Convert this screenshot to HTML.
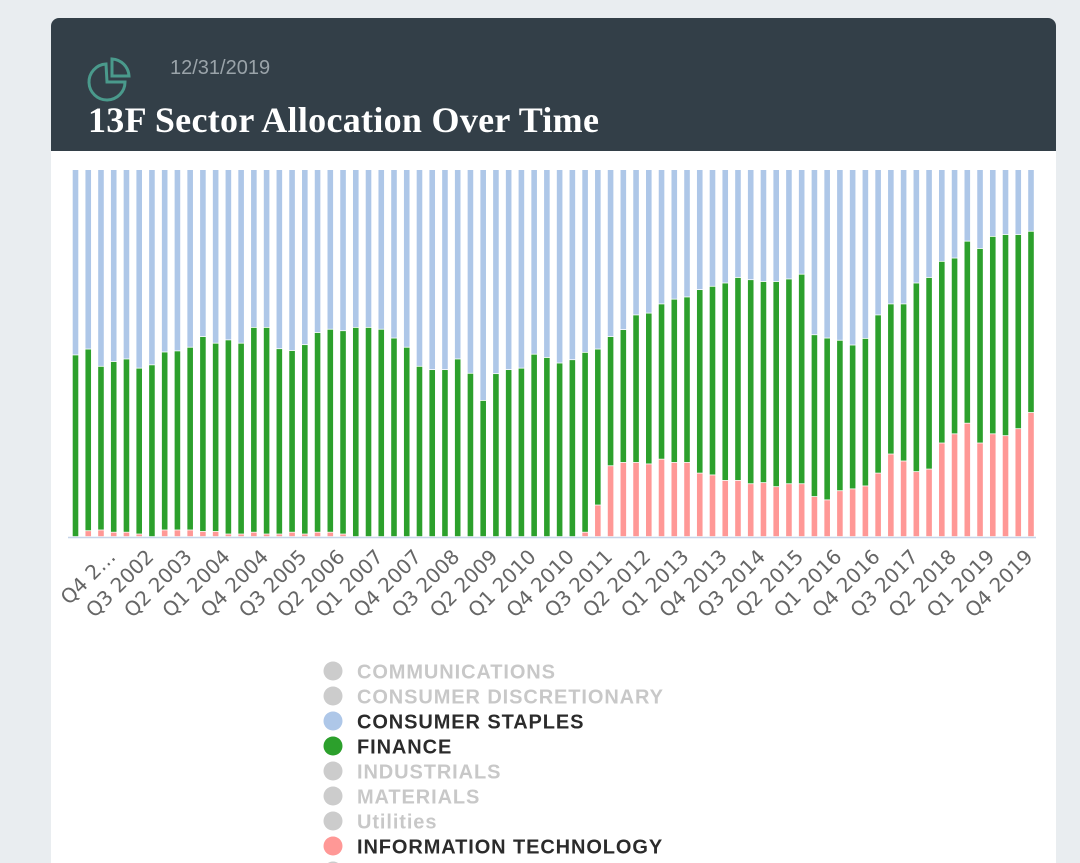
<!DOCTYPE html>
<html><head><meta charset="utf-8">
<style>
html,body{margin:0;padding:0;width:1080px;height:863px;overflow:hidden;background:#e9edf0;font-family:"Liberation Sans",sans-serif;}
#card{position:absolute;left:51px;top:18px;width:1005px;height:845px;background:#fff;border-radius:8px 8px 0 0;overflow:hidden;}
#hdr{position:absolute;left:0;top:0;width:1005px;height:133px;background:#333f48;}
#date{position:absolute;left:119px;top:39px;color:#9aa3a9;font-size:20px;}
#title{position:absolute;left:37px;top:81px;color:#fff;font-family:"Liberation Serif",serif;font-weight:bold;font-size:36px;letter-spacing:0.3px;}
svg{position:absolute;left:0;top:0;}
</style></head><body>
<div id="card">
 <div id="hdr">
  <svg width="60" height="60" style="left:36px;top:38px">
   <path d="M19 8 A18 18 0 1 0 38 26 L20 26 Z" fill="none" stroke="#4a9a8c" stroke-width="3"/>
   <path d="M25 3 A18 18 0 0 1 42 20 L25 20 Z" fill="none" stroke="#4a9a8c" stroke-width="3"/>
  </svg>
  <div id="date">12/31/2019</div>
  <div id="title">13F Sector Allocation Over Time</div>
 </div>
</div>
<svg id="chart" width="1080" height="863"></svg>
<script>
const quarters=[];for(let y=2001;y<=2019;y++)for(let q=1;q<=4;q++)quarters.push('Q'+q+' '+y);
const itShare=[0,1.6,1.8,1.2,1.2,0.7,0,1.8,1.8,1.8,1.4,1.4,0.7,0.7,1.2,0.7,0.7,1.2,0.7,1.2,1.2,0.7,0,0,0,0,0,0,0,0,0,0,0,0,0,0,0,0,0,0,1.2,8.6,19.3,20.2,20.2,19.8,21.1,20.2,20.2,17.3,16.8,15.3,15.3,14.4,14.7,13.6,14.4,14.4,10.9,10.0,12.5,13.0,13.8,17.3,22.5,20.6,17.7,18.4,25.5,28.0,30.9,25.5,28.0,27.5,29.4,33.8];
const financeShare=[49.5,49.5,44.6,46.5,47.2,45.2,46.8,48.5,48.8,49.8,53.1,51.3,52.9,52.0,55.8,56.3,50.5,49.5,51.6,54.4,55.3,55.4,57.0,57.0,56.5,54.1,51.6,46.4,45.5,45.5,48.4,44.5,37.1,44.4,45.5,45.9,49.7,48.8,47.3,48.2,49.0,42.5,35.2,36.2,40.2,41.1,42.3,44.5,45.1,50.0,51.4,53.8,55.3,55.6,54.8,55.9,55.8,57.1,44.1,44.1,41.0,39.2,40.2,43.1,40.9,42.8,51.4,52.2,49.5,47.9,49.6,53.0,53.8,54.8,52.9,49.4];
const tickEvery=3, tickStart=3;
const X0=75.5, STEP=12.74, BW=5.6, TOP=170, BOT=537;
const svg=document.getElementById('chart');const NS='http://www.w3.org/2000/svg';
function xs(i){return X0+STEP*i;}
function ys(v){return BOT-(BOT-TOP)*v/100;}
function rect(x,y1,y2,fill,name){const r=document.createElementNS(NS,'rect');r.setAttribute('x',x-BW/2);r.setAttribute('y',Math.min(y1,y2));r.setAttribute('width',BW);r.setAttribute('height',Math.max(0,Math.abs(y2-y1)-0.8));r.setAttribute('fill',fill);


svg.appendChild(r);}
quarters.forEach((q,i)=>{const x=xs(i);const it=itShare[i],fin=financeShare[i];
 if(it>0)rect(x,ys(it),BOT,'#ff9896','bar-it');
 rect(x,ys(it+fin),ys(it),'#2ca02c','bar-finance');
 rect(x,TOP,ys(it+fin),'#aec7e8','bar-consumer-staples');});
const ax=document.createElementNS(NS,'line');ax.setAttribute('x1',68);ax.setAttribute('x2',1036);ax.setAttribute('y1',BOT+0.5);ax.setAttribute('y2',BOT+0.5);ax.setAttribute('stroke','#c6d4e8');ax.setAttribute('stroke-width',1.5);


svg.appendChild(ax);
for(let i=tickStart;i<quarters.length;i+=tickEvery){const t=document.createElementNS(NS,'text');const x=xs(i)+3,y=558;
 t.setAttribute('transform','translate('+x+','+y+') rotate(-45)');t.setAttribute('text-anchor','end');t.setAttribute('font-size','20');t.setAttribute('fill','#666');t.setAttribute('font-family','"DejaVu Sans","Liberation Sans",sans-serif');
 t.textContent=(i===tickStart)?'Q4 2…':quarters[i];
 
 
 svg.appendChild(t);}
const legendNames=['COMMUNICATIONS','CONSUMER DISCRETIONARY','CONSUMER STAPLES','FINANCE','INDUSTRIALS','MATERIALS','Utilities','INFORMATION TECHNOLOGY',''];
const legendColors=['#cccccc','#cccccc','#aec7e8','#2ca02c','#cccccc','#cccccc','#cccccc','#ff9896','#cccccc'];
const legendActive=[0,0,1,1,0,0,0,1,0];
legendNames.forEach((n,k)=>{const y=671+25*k;
 const c=document.createElementNS(NS,'circle');c.setAttribute('cx',333);c.setAttribute('cy',y);c.setAttribute('r',9.5);c.setAttribute('fill',legendColors[k]);
 
 
 svg.appendChild(c);
 const t=document.createElementNS(NS,'text');t.setAttribute('x',357);t.setAttribute('y',y+7.5);t.setAttribute('font-size','20');t.setAttribute('font-weight','bold');t.setAttribute('letter-spacing','0.9');t.setAttribute('fill',legendActive[k]?'#2b2b2b':'#c8c8c8');t.setAttribute('font-family','"Liberation Sans",sans-serif');t.textContent=n;
 
 
 svg.appendChild(t);});
</script>
</body></html>
